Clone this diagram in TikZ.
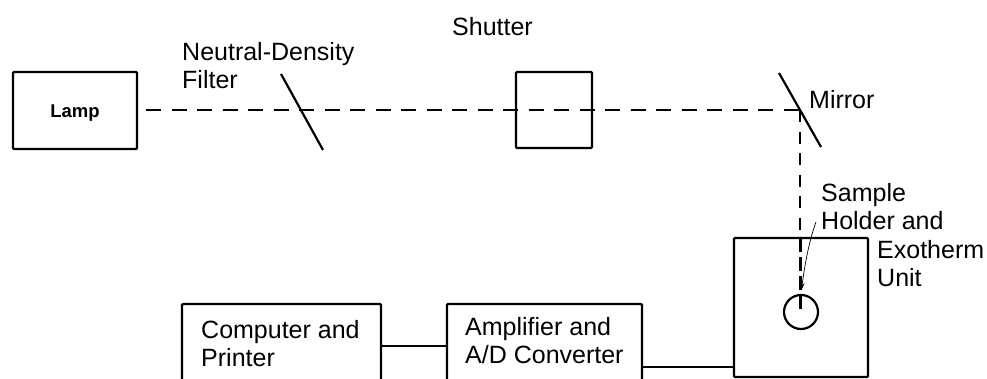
\documentclass[tikz,border=0pt]{standalone}
\usepackage{fontspec}
\setmainfont{Liberation Sans}
\usetikzlibrary{arrows.meta,positioning,calc}

\begin{document}
\begin{tikzpicture}[x=1pt,y=-1pt,
  unit/.style={draw,line width=2.4pt,rounded corners=1pt,anchor=north west,inner sep=0pt,outer sep=0pt},
  tag/.style={anchor=north west,align=left,inner sep=0pt,font=\fontsize{25}{28}\selectfont},
  beam/.style={line width=2.2pt,dash pattern=on 15pt off 10.5pt},
  plate/.style={line width=2.2pt},
  wire/.style={line width=2.2pt}]
  \clip (0,0) rectangle (987,379);
  \node[unit,minimum width=124pt,minimum height=77pt,font=\bfseries\fontsize{18.5}{22}\selectfont,text depth=4pt,text height=19pt] (L) at (13,72) {Lamp};
  \node[unit,minimum width=76pt,minimum height=76pt] (S) at (516,72) {};
  \node[unit,minimum width=134pt,minimum height=139pt] (H) at (734,238) {};
  \node[unit,minimum width=199pt,minimum height=100pt] (C) at (182,304) {};
  \node[unit,minimum width=195pt,minimum height=100pt] (A) at (447,304) {};
  \node[draw,circle,line width=2.2pt,minimum size=34pt,inner sep=0pt] (O) at (801,312) {};
  \coordinate (Fa) at (281,74);
  \coordinate (Fb) at (323,150);
  \coordinate (Ma) at (779,73);
  \coordinate (Mb) at (821,147);
  \coordinate (M) at (800,110);
  \coordinate (T) at (816,222);
  \coordinate (W1) at (0,346);
  \coordinate (W2) at (0,367);
  % beam
  \draw[beam,shorten <=9pt] (L.east |- M) -- (M);
  \draw[beam,dash pattern=on 12pt off 9.6pt] (M) -- (M |- H.north);
  \draw[line width=3pt,dash pattern=on 14pt off 5pt,shorten >=3pt] (M |- H.north) -- (M |- O.center);
  \draw[plate] (Fa) -- (Fb);
  \draw[plate] (Ma) -- (Mb);
  % connections
  \draw[wire] (C.east |- W1) -- (A.west |- W1);
  \draw[wire] (A.east |- W2) -- (H.west |- W2);
  \draw[line width=.7pt,-{Stealth[length=7pt,width=4.5pt]},shorten >=4pt] (T) .. controls (810,238) and (805,262) .. (O.north);
  % labels
  \node[tag] (n1) at (182,42) {Neutral-Density\\Filter};
  \node[tag] (n2) at (452,17) {Shutter};
  \node[tag] (n3) at (809,90) {Mirror};
  \node[tag] (n4) at (821,183) {Sample\\Holder and};
  \node[tag] (n5) at (877,240) {Exotherm\\Unit};
  \node[tag] (n6) at (201,320) {Computer and\\Printer};
  \node[tag] (n7) at (465,317) {Amplifier and\\A/D Converter};
\end{tikzpicture}
\end{document}
